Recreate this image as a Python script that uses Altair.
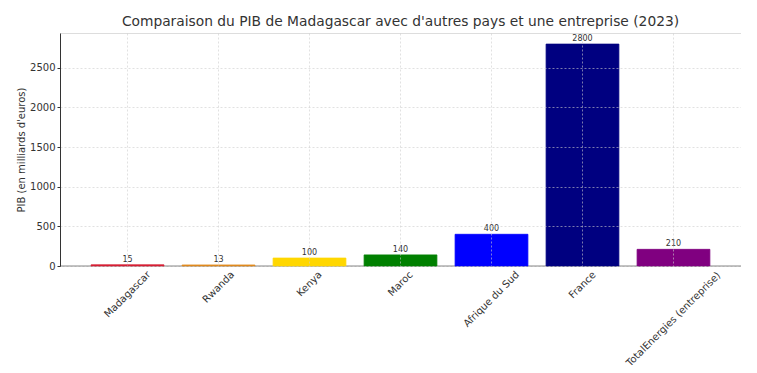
import altair as alt
import pandas as pd

categories = ["Madagascar", "Rwanda", "Kenya", "Maroc", "Afrique du Sud", "France", "TotalEnergies (entreprise)"]
values = [15, 13, 100, 140, 400, 2800, 210]
colors = ["#d62035", "#e08a1e", "#ffd700", "#008000", "#0000ff", "#000080", "#800080"]
y_ticks = [0, 500, 1000, 1500, 2000, 2500]

FONT = "DejaVu Sans"
W, H = 681, 233
LABEL_SIZE = 10

# approximate DejaVu Sans advance widths (units per em = 2048), used to centre rotated labels
_adv = {" ": 651, "(": 799, ")": 799, "A": 1401, "E": 1294, "F": 1178, "K": 1300, "M": 1767,
        "R": 1423, "S": 1300, "T": 1251, "a": 1255, "c": 1126, "d": 1300, "e": 1260, "f": 721,
        "g": 1300, "i": 569, "k": 1186, "l": 569, "m": 1995, "n": 1298, "o": 1253, "p": 1300,
        "q": 1300, "r": 842, "s": 1067, "t": 803, "u": 1298, "w": 1675, "y": 1212, "v": 1212}


def text_width(s, size):
    return sum(_adv.get(ch, 1200) for ch in s) / 2048 * size


df = pd.DataFrame({"pays": categories, "pib": values, "color": colors})
# rotated (45 deg) label centred under its tick, like matplotlib ha="center"
df["label_y"] = [H + 3 + (text_width(c, LABEL_SIZE) + 1.15 * LABEL_SIZE) * 0.7071 / 2 for c in categories]

x_enc = alt.X("pays:N", sort=categories, title=None,
              scale=alt.Scale(paddingInner=0.2, paddingOuter=0.342),
              axis=alt.Axis(labels=False, ticks=False, domain=False,
                            grid=True, gridDash=[2, 2], gridColor="#cccccc", gridWidth=0.6,
                            zindex=1))
y_enc = alt.Y("pib:Q", title="PIB (en milliards d'euros)",
              scale=alt.Scale(domain=[0, 2940], nice=False),
              axis=alt.Axis(values=y_ticks, format="d", labelFont=FONT, labelFontSize=10, labelColor="#333333",
                            titleFont=FONT, titleFontSize=10, titleFontWeight="normal", titleColor="#333333",
                            titlePadding=3, tickSize=3, tickColor="#333333", labelPadding=2,
                            domainColor="#333333", domainWidth=1,
                            grid=True, gridDash=[2, 2], gridColor="#cccccc", gridWidth=0.6,
                            zindex=1))

baseline = alt.Chart(pd.DataFrame({"y": [0]})).mark_rule(color="#888888", strokeWidth=1.2).encode(
    y=alt.Y("y:Q")
)

bars = alt.Chart(df).mark_bar(strokeWidth=0.8).encode(
    x=x_enc, y=y_enc,
    color=alt.Color("color:N", scale=None),
    stroke=alt.Stroke("color:N", scale=None),
)

values_text = alt.Chart(df).mark_text(font=FONT, fontSize=8, color="#333333", baseline="bottom", dy=-1).encode(
    x=alt.X("pays:N", sort=categories),
    y=alt.Y("pib:Q"),
    text=alt.Text("pib:Q"),
)

cat_labels = alt.Chart(df).mark_text(font=FONT, fontSize=LABEL_SIZE, color="#333333",
                                     align="center", baseline="middle", angle=315).encode(
    x=alt.X("pays:N", sort=categories),
    y=alt.Y("label_y:Q", scale=None),
    text=alt.Text("pays:N"),
)

chart = alt.layer(baseline, bars, values_text, cat_labels).properties(
    width=W, height=H,
    title=alt.TitleParams("Comparaison du PIB de Madagascar avec d'autres pays et une entreprise (2023)",
                          font=FONT, fontSize=13.8, fontWeight="normal", color="#333333",
                          anchor="middle", offset=4),
    autosize=alt.AutoSizeParams(type="none"),
    padding={"left": 52, "top": 25, "right": 0, "bottom": 99},
).configure_view(stroke=None).configure(background="white")

chart.save("out.html", embed_options={"renderer": "svg", "actions": False})
